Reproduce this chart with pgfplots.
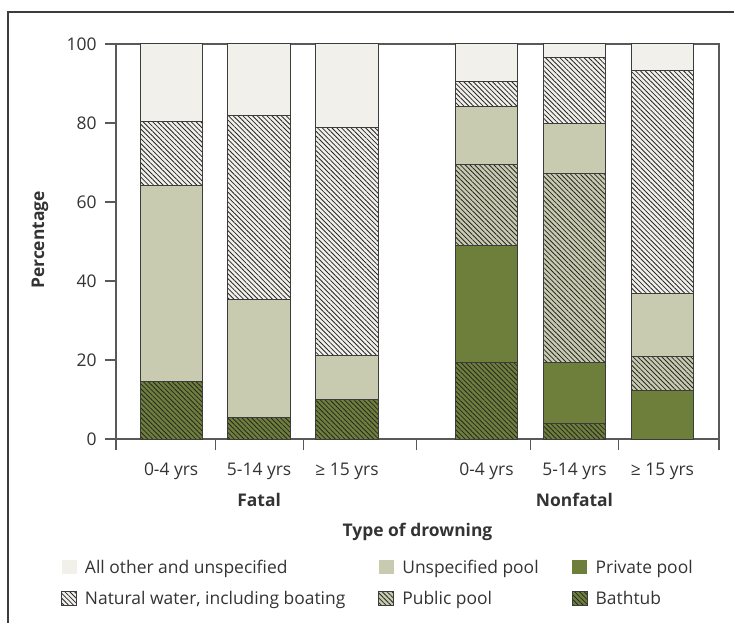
\documentclass[border=0pt]{standalone}
\usepackage{fontspec}
\setmainfont{Open Sans}
\usepackage{pgfplots}
\usepackage{pgfplotstable}
\pgfplotsset{compat=1.18}
\usetikzlibrary{patterns.meta}
\definecolor{cother}{HTML}{F1F0EB}
\definecolor{cunspec}{HTML}{C8CBB0}
\definecolor{cpriv}{HTML}{6E7F3B}
\definecolor{ctext}{HTML}{333333}
\definecolor{caxis}{HTML}{595959}
\definecolor{cedge}{HTML}{3C3C3C}
\newcommand{\fs}{\fontsize{17.5}{21}\selectfont}
\tikzset{hatch/.style={postaction={pattern={Lines[angle=-45,distance=3.4bp,line width=0.8bp]},pattern color=black!85}}}
\pgfplotsset{sqleg/.style={legend image code/.code={\path[##1,draw=none] (0bp,-7bp) rectangle (15bp,7bp);}}}

\pgfplotstableread{
x bath priv pub unspec nat other
0 14.5 0 0 49.8 16.0 19.7
1 5.5 0 0 29.9 46.4 18.2
2 10.0 0 0 11.2 57.6 21.2
3.585 19.4 29.6 20.4 14.7 6.3 9.6
4.585 4.0 15.4 47.7 12.7 16.8 3.4
5.585 0 12.2 8.6 16.0 56.4 6.8
}\data

\begin{document}
\begin{tikzpicture}
\begin{axis}[
  name=ax, at={(0,0)}, anchor=south west,
  scale only axis, width=603bp, height=395bp,
  clip=false,
  ybar stacked, bar width=0.708,
  xmin=-0.627, xmax=6.228, ymin=0, ymax=100,
  axis line style={caxis, line width=1.1bp},
  tick style={caxis, line width=1.1bp},
  major tick length=11bp,
  tick align=outside,
  xtick pos=bottom, ytick pos=left,
  ytick={0,20,40,60,80,100},
  yticklabel style={xshift=-5bp},
  xtick={-0.627,0.5,1.5,2.79,4.085,5.085,6.228},
  xticklabels={},
  extra x ticks={0,1,2,3.585,4.585,5.585},
  extra x tick labels={0-4 yrs,5-14 yrs,≥ 15 yrs,0-4 yrs,5-14 yrs,≥ 15 yrs},
  extra x tick style={major tick length=0pt, tick label style={anchor=base, yshift=-36.7bp}},
  ticklabel style={font=\fs, text=ctext},
  /pgf/number format/assume math mode=true,
  ylabel={Percentage},
  ylabel style={font=\fs\bfseries, text=ctext, at={(axis description cs:-0.126,0.504)}, anchor=center},
  xlabel={Type of drowning},
  xlabel style={font=\fs\bfseries, text=ctext, at={(axis description cs:0.5,-0.235)}, anchor=center},
  legend columns=3,
  legend cell align=left,
  legend style={draw=none, fill=none, font=\fs, text=ctext,
    at={(axis description cs:-0.0912,-0.301)}, anchor=north west,
    inner sep=0pt, outer sep=0pt, row sep=12.5bp,
    /tikz/every odd column/.append style={column sep=6bp},
    /tikz/every even column/.append style={column sep=31bp}},
  every axis plot/.append style={draw=cedge, line width=1bp},
]
\addplot[fill=cpriv, hatch, forget plot] table[x=x,y=bath]{\data};
\addplot[fill=cpriv, forget plot] table[x=x,y=priv]{\data};
\addplot[fill=cunspec, hatch, forget plot] table[x=x,y=pub]{\data};
\addplot[fill=cunspec, forget plot] table[x=x,y=unspec]{\data};
\addplot[fill=cother, hatch, forget plot] table[x=x,y=nat]{\data};
\addplot[fill=cother, forget plot] table[x=x,y=other]{\data};

\addlegendimage{sqleg, fill=cother}
\addlegendentry{All other and unspecified}
\addlegendimage{sqleg, fill=cunspec}
\addlegendentry{Unspecified pool}
\addlegendimage{sqleg, fill=cpriv}
\addlegendentry{Private pool}
\addlegendimage{sqleg, fill=cother, hatch}
\addlegendentry{Natural water, including boating}
\addlegendimage{sqleg, fill=cunspec, hatch}
\addlegendentry{Public pool}
\addlegendimage{sqleg, fill=cpriv, hatch}
\addlegendentry{Bathtub}

\node[font=\fs\bfseries, text=ctext, yshift=-60.5bp] at (axis cs:1,0) {Fatal};
\node[font=\fs\bfseries, text=ctext, yshift=-60.5bp] at (axis cs:4.585,0) {Nonfatal};
\end{axis}
\draw[cedge, line width=1.2bp] ([shift={(-108bp,-200bp)}]ax.south west) -- ([shift={(-108bp,427bp)}]ax.south west) -- ([shift={(640bp,427bp)}]ax.south west);
\pgfresetboundingbox
\useasboundingbox ([shift={(-116bp,-184bp)}]ax.south west) rectangle ([shift={(618bp,439bp)}]ax.south west);
\end{tikzpicture}
\end{document}
